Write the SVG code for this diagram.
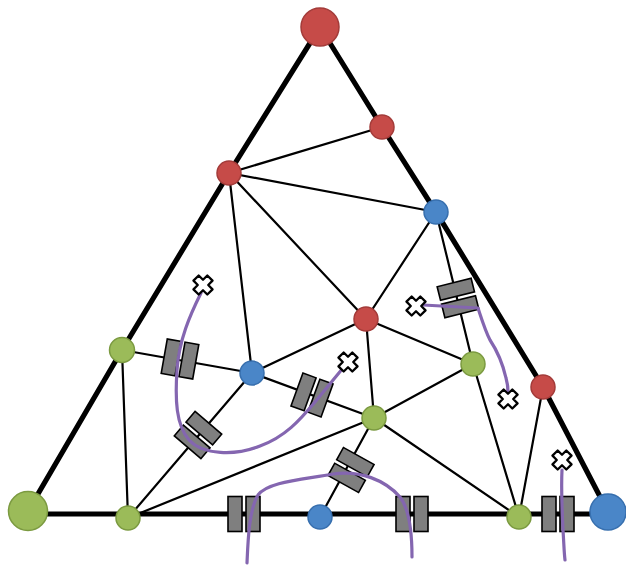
<svg xmlns="http://www.w3.org/2000/svg" width="626" height="565" viewBox="0 0 626 565">
<defs>
<style>
.thin{stroke:#000;stroke-width:2.2;fill:none;stroke-linecap:round}
.thick{stroke:#000;stroke-width:5.2;fill:none;stroke-linecap:round;stroke-linejoin:round}
.blk{fill:#7f7f7f;stroke:#000;stroke-width:1.6}
.cur{stroke:#8466b0;stroke-width:3.2;fill:none;stroke-linecap:round;stroke-linejoin:round}
.xm{fill:#fff;stroke:#000;stroke-width:2.3;stroke-linejoin:round}
.r{fill:#c64b48;stroke:#a33b39;stroke-width:1.5}
.g{fill:#9bbb59;stroke:#7b9a40;stroke-width:1.5}
.b{fill:#4a86c8;stroke:#376fae;stroke-width:1.5}
</style>
<g id="pair">
<rect class="blk" x="-16" y="-17.5" width="14" height="35"/>
<rect class="blk" x="2" y="-17.5" width="14" height="35"/>
</g>
<path id="xs" d="M-3.7,-9.8 H3.7 V-3.7 H9.8 V3.7 H3.7 V9.8 H-3.7 V3.7 H-9.8 V-3.7 H-3.7 Z" transform="rotate(45)"/>
</defs>
<rect width="626" height="565" fill="#fff"/>
<g id="connectors">
<line class="thin" x1="382" y1="127" x2="229" y2="173"/>
<line class="thin" x1="229" y1="173" x2="436" y2="212"/>
<line class="thin" x1="229" y1="173" x2="366" y2="319"/>
<line class="thin" x1="229" y1="173" x2="252" y2="373"/>
<line class="thin" x1="436" y1="212" x2="366" y2="319"/>
<line class="thin" x1="436" y1="212" x2="473" y2="364"/>
<line class="thin" x1="366" y1="319" x2="252" y2="373"/>
<line class="thin" x1="366" y1="319" x2="374" y2="418"/>
<line class="thin" x1="366" y1="319" x2="473" y2="364"/>
<line class="thin" x1="473" y1="364" x2="374" y2="418"/>
<line class="thin" x1="473" y1="364" x2="519" y2="517"/>
<line class="thin" x1="543" y1="387" x2="519" y2="517"/>
<line class="thin" x1="374" y1="418" x2="519" y2="517"/>
<line class="thin" x1="122" y1="350" x2="252" y2="373"/>
<line class="thin" x1="122" y1="350" x2="128" y2="518"/>
<line class="thin" x1="252" y1="373" x2="128" y2="518"/>
<line class="thin" x1="374" y1="418" x2="128" y2="518"/>
<line class="thin" x1="252" y1="373" x2="374" y2="418"/>
<line class="thin" x1="374" y1="418" x2="320" y2="517"/>
<polyline class="thick" points="28,511 122,350 229,173 320,27 382,127 436,212 543,387 608,512"/>
<line class="thick" x1="28" y1="514" x2="608" y2="514"/>
</g>
<g id="blocks">
<use href="#pair" transform="translate(180,359) rotate(10)"/>
<use href="#pair" transform="translate(198,435) rotate(-49.5)"/>
<use href="#pair" transform="translate(312,395) rotate(20)"/>
<use href="#pair" transform="translate(351,470) rotate(-61)"/>
<use href="#pair" transform="translate(458,298) rotate(76)"/>
<use href="#pair" transform="translate(244,514)"/>
<use href="#pair" transform="translate(412,514)"/>
<use href="#pair" transform="translate(558,514)"/>
</g>
<g id="curves">
<path class="cur" d="M201,293 C190,315 179,340 177,370 C175,400 176,425 189,440 C203,455 235,456 260,446 C285,437 300,420 315,402 C325,390 334,379 343,368"/>
<path class="cur" d="M247,563 C248,540 249,510 258,495 C268,482 300,480 333,474 C360,470 385,480 400,497 C410,510 412,535 412,557"/>
<path class="cur" d="M423,305 L478,308 C482,320 485,330 490,340 C498,352 503,365 506,378 C508,385 508,390 508,392"/>
<path class="cur" d="M562,470 C561,490 562,510 563,530 C564,545 564,552 565,560"/>
</g>
<g id="marks">
<use href="#xs" class="xm" transform="translate(203,285)"/>
<use href="#xs" class="xm" transform="translate(348,362)"/>
<use href="#xs" class="xm" transform="translate(416,306)"/>
<use href="#xs" class="xm" transform="translate(508,399)"/>
<use href="#xs" class="xm" transform="translate(562,460)"/>
</g>
<g id="n_top"><circle class="r" cx="320" cy="27" r="19"/></g>
<g id="n_r1"><circle class="r" cx="382" cy="127" r="12"/></g>
<g id="n_r2"><circle class="r" cx="229" cy="173" r="12"/></g>
<g id="n_b1"><circle class="b" cx="436" cy="212" r="12"/></g>
<g id="n_r3"><circle class="r" cx="366" cy="319" r="12"/></g>
<g id="n_g1"><circle class="g" cx="122" cy="350" r="12.5"/></g>
<g id="n_b2"><circle class="b" cx="252" cy="373" r="12"/></g>
<g id="n_g2"><circle class="g" cx="473" cy="364" r="12"/></g>
<g id="n_r4"><circle class="r" cx="543" cy="387" r="12"/></g>
<g id="n_g3"><circle class="g" cx="374" cy="418" r="12"/></g>
<g id="n_gl"><circle class="g" cx="28" cy="511" r="19.5"/></g>
<g id="n_g4"><circle class="g" cx="128" cy="518" r="12"/></g>
<g id="n_b3"><circle class="b" cx="320" cy="517" r="12"/></g>
<g id="n_g5"><circle class="g" cx="519" cy="517" r="12"/></g>
<g id="n_br"><circle class="b" cx="608" cy="512" r="18"/></g>
</svg>
